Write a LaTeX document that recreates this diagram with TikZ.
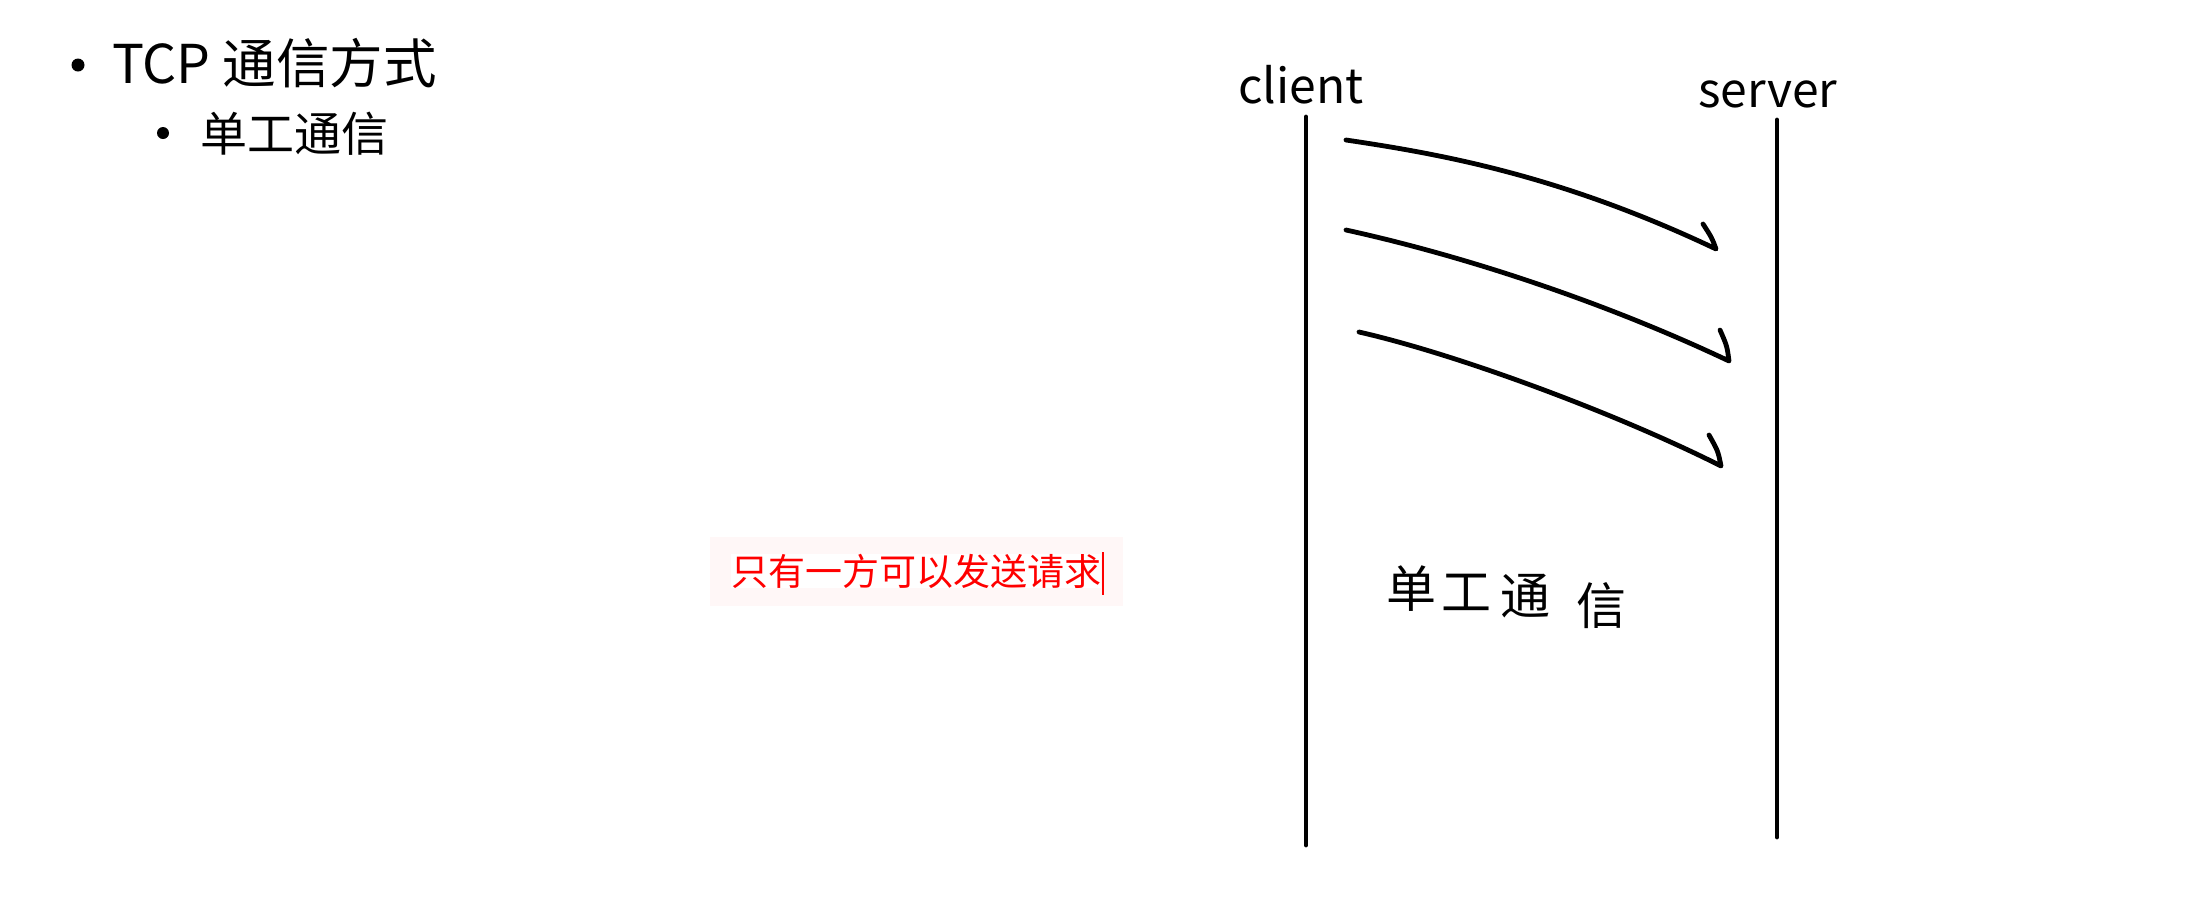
\documentclass[tikz,border=0pt]{standalone}
\usepackage{fontspec}
\setmainfont{Noto Sans CJK SC}
\definecolor{pinkbg}{RGB}{255,247,247}
\begin{document}
\begin{tikzpicture}[x=1pt,y=-1pt,
  lifeline/.style={line width=4.8pt, line cap=round},
  msg/.style={line width=4.8pt, line cap=round, line join=round},
  hand/.style={font=\fontsize{48}{52}\selectfont, anchor=base west, inner sep=0pt},
  handcjk/.style={font=\fontsize{50}{54}\selectfont, inner sep=0pt},
  bulletdot/.style={circle, fill=black, inner sep=0pt, minimum size=13pt}
]
\path[use as bounding box, fill=white] (0,0) rectangle (2194,922);

% bullet list
\node[bulletdot] (b1) at (78,65) {};
\node[anchor=base west, inner sep=0pt, font=\fontsize{53.5}{58}\selectfont] (t1) at (112,83) {TCP 通信方式};
\node[bulletdot, minimum size=12pt] (b2) at (163,133) {};
\node[anchor=base west, inner sep=0pt, font=\fontsize{47}{52}\selectfont] (t2) at (200,151) {单工通信};

% red note
\node[fill=pinkbg, inner sep=0pt, minimum width=413pt, minimum height=69pt] (rbox) at (916.5,571.5) {};
\node[anchor=base west, inner sep=0pt, fill=white, text=red, font=\fontsize{37}{40}\selectfont] (rtext) at (731,585) {只有一方可以发送请求};
\coordinate (cur1) at (1103,552);
\coordinate (cur2) at (1103,595);
\draw[red, line width=1.3pt] (cur1) -- (cur2);

% labels
\node[hand] (cl) at (1238,103) {client};
\node[hand] (sv) at (1698,107) {server};

% lifelines
\coordinate (ct) at (1306,117);
\coordinate (cb) at (1306,845);
\coordinate (st) at (1777,120);
\coordinate (sb) at (1777,837);
\draw[lifeline] (ct) -- (cb);
\draw[lifeline] (st) -- (sb);

% messages
\coordinate (m1s) at (1346,140);
\coordinate (m1t) at (1716,249);
\coordinate (m1b) at (1703,224);
\coordinate (m2s) at (1346,230);
\coordinate (m2t) at (1729,361);
\coordinate (m2b) at (1720,330);
\coordinate (m3s) at (1359,332);
\coordinate (m3t) at (1721,466);
\coordinate (m3b) at (1709,435);
\draw[msg] (m1s) .. controls (1440,154) and (1560,175) .. (m1t) .. controls (1712,238) .. (m1b);
\draw[msg] (m2s) .. controls (1460,255) and (1600,300) .. (m2t) .. controls (1727,346) .. (m2b);
\draw[msg] (m3s) .. controls (1460,355) and (1620,415) .. (m3t) .. controls (1718,451) .. (m3b);

% handwritten caption
\node[handcjk] (h1) at (1411,589) {单};
\node[handcjk] (h2) at (1466,592) {工};
\node[handcjk] (h3) at (1525,596) {通};
\node[handcjk] (h4) at (1601,606) {信};
\end{tikzpicture}
\end{document}
